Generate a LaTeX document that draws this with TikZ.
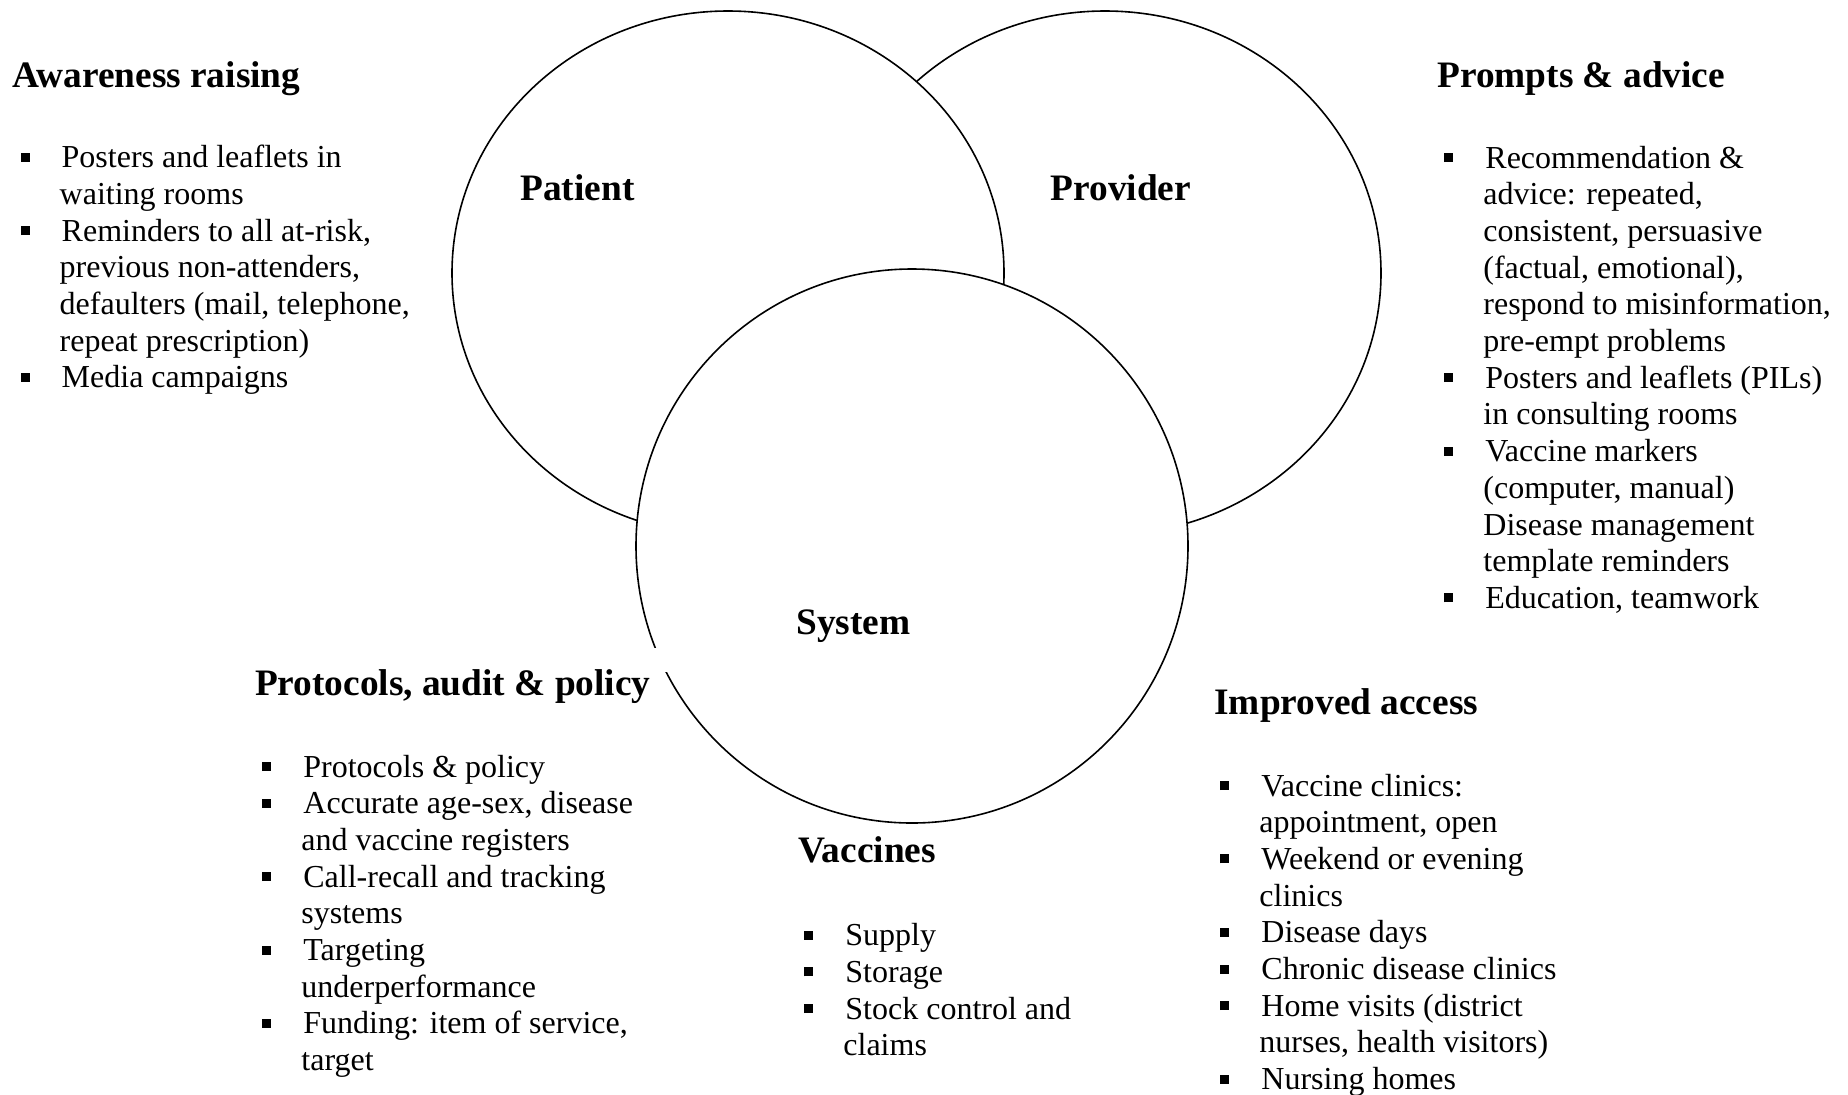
\documentclass[tikz,border=0pt]{standalone}
\usepackage{fontspec}
\setmainfont{Liberation Serif}
\usetikzlibrary{shapes.geometric}
\newcommand\ttl{\fontsize{18.67}{21.5}\selectfont\bfseries}
\newcommand\bdy{\fontsize{16}{18.35}\selectfont}
\newcommand\itm[1]{\par\noindent\hangindent=19.5pt\hangafter=1\makebox[20.5pt][l]{\rule[3pt]{4.5pt}{4.5pt}}#1}
\newcommand\itemlist[2]{\parbox[t]{#1}{\bdy\raggedright #2}}

\begin{document}
\begin{tikzpicture}[x=0.5pt,y=-0.5pt,
  ring/.style={ellipse,draw,fill=white,line width=0.8pt,inner sep=0pt,outer sep=0pt},
  head/.style={anchor=base west,inner sep=0pt,font=\ttl},
  tag/.style={anchor=base,inner sep=0pt,font=\ttl},
  body/.style={anchor=base west,inner sep=0pt}]
  \useasboundingbox (0,0) rectangle (1848,1094);
  \node[ring,minimum width=276pt,minimum height=262pt] (prov) at (1105,273) {};
  \node[ring,minimum width=276pt,minimum height=262pt] (pat) at (728,273) {};
  \node[ring,minimum width=276pt,minimum height=277pt] (sys) at (912,546) {};
  \fill[white] (250,648) rectangle (690,672);
  \node[tag] (patl) at (577.5,200.6) {Patient};
  \node[tag] (provl) at (1120.8,200.6) {Provider};
  \node[tag] (sysl) at (853.3,634) {System};
  \node[head] (awh) at (12,87.6) {Awareness raising};
  \node[head] (pah) at (1437,87.6) {Prompts \& advice};
  \node[head] (poh) at (254.6,695) {Protocols, audit \& policy};
  \node[head] (vah) at (798,862) {Vaccines};
  \node[head] (imh) at (1214,714.6) {Improved access};
  \node[body] (awl) at (20.3,167.7) {\itemlist{330pt}{%
    \itm{Posters and leaflets in\newline waiting rooms}%
    \itm{Reminders to all at-risk,\newline previous non-attenders,\newline defaulters (mail, telephone,\newline repeat prescription)}%
    \itm{Media campaigns}}};
  \node[body] (pal) at (1444,168) {\itemlist{330pt}{%
    \itm{Recommendation \&\newline advice: repeated,\newline consistent, persuasive\newline (factual, emotional),\newline respond to misinformation,\newline pre-empt problems}%
    \itm{Posters and leaflets (PILs)\newline in consulting rooms}%
    \itm{Vaccine markers\newline (computer, manual)\newline Disease management\newline template reminders}%
    \itm{Education, teamwork}}};
  \node[body] (pol) at (262,777) {\itemlist{330pt}{%
    \itm{Protocols \& policy}%
    \itm{Accurate age-sex, disease\newline and vaccine registers}%
    \itm{Call-recall and tracking\newline systems}%
    \itm{Targeting\newline underperformance}%
    \itm{Funding: item of service,\newline target}}};
  \node[body] (val) at (804,945.6) {\itemlist{330pt}{%
    \itm{Supply}%
    \itm{Storage}%
    \itm{Stock control and\newline claims}}};
  \node[body] (iml) at (1220,796) {\itemlist{330pt}{%
    \itm{Vaccine clinics:\newline appointment, open}%
    \itm{Weekend or evening\newline clinics}%
    \itm{Disease days}%
    \itm{Chronic disease clinics}%
    \itm{Home visits (district\newline nurses, health visitors)}%
    \itm{Nursing homes}}};
\end{tikzpicture}
\end{document}
